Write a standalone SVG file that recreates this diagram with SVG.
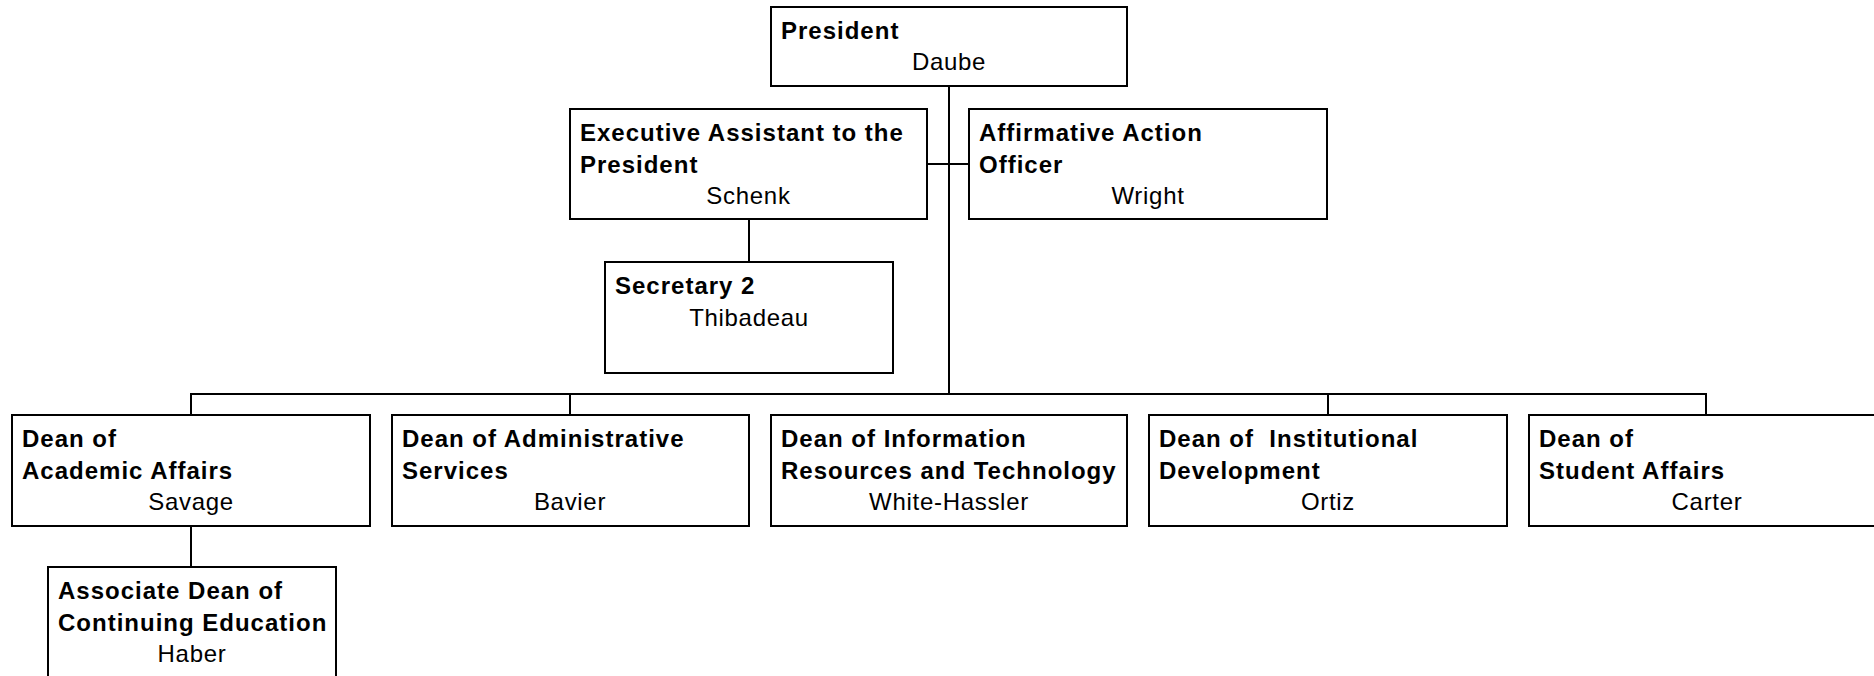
<svg xmlns="http://www.w3.org/2000/svg" width="1874" height="676" viewBox="0 0 1874 676">
  <style>
    .box { fill: #ffffff; stroke: #000000; stroke-width: 2; }
    .link { fill: none; stroke: #000000; stroke-width: 2; }
    .title { font-family: "Liberation Sans", Arial, sans-serif; font-size: 24px; font-weight: bold; letter-spacing: 1px; fill: #000000; white-space: pre; }
    .name { font-family: "Liberation Sans", Arial, sans-serif; font-size: 24px; letter-spacing: 0.7px; fill: #000000; text-anchor: middle; }
  </style>
  <rect width="1874" height="676" fill="#ffffff"/>

  <!-- reporting lines -->
  <g id="connectors">
    <line class="link" x1="949" y1="86" x2="949" y2="394"/>
    <line class="link" x1="927" y1="164" x2="969" y2="164"/>
    <line class="link" x1="749" y1="219" x2="749" y2="262"/>
    <line class="link" x1="191" y1="394" x2="1706" y2="394"/>
    <line class="link" x1="191" y1="393" x2="191" y2="415"/>
    <line class="link" x1="570" y1="394" x2="570" y2="415"/>
    <line class="link" x1="1328" y1="394" x2="1328" y2="415"/>
    <line class="link" x1="1706" y1="393" x2="1706" y2="415"/>
    <line class="link" x1="191" y1="526" x2="191" y2="567"/>
  </g>

  <g id="president">
    <rect class="box" x="771" y="7" width="356" height="79"/>
    <text class="title" x="781" y="39">President</text>
    <text class="name" x="949" y="70">Daube</text>
  </g>

  <g id="executive-assistant">
    <rect class="box" x="570" y="109" width="357" height="110"/>
    <text class="title" x="580" y="141">Executive Assistant to the</text>
    <text class="title" x="580" y="172.5">President</text>
    <text class="name" x="748.5" y="204">Schenk</text>
  </g>

  <g id="affirmative-action">
    <rect class="box" x="969" y="109" width="358" height="110"/>
    <text class="title" x="979" y="141">Affirmative Action</text>
    <text class="title" x="979" y="172.5">Officer</text>
    <text class="name" x="1148" y="204">Wright</text>
  </g>

  <g id="secretary">
    <rect class="box" x="605" y="262" width="288" height="111"/>
    <text class="title" x="615" y="294">Secretary 2</text>
    <text class="name" x="749" y="325.5">Thibadeau</text>
  </g>

  <g id="dean-academic">
    <rect class="box" x="12" y="415" width="358" height="111"/>
    <text class="title" x="22" y="447">Dean of</text>
    <text class="title" x="22" y="478.5">Academic Affairs</text>
    <text class="name" x="191" y="510">Savage</text>
  </g>

  <g id="dean-administrative">
    <rect class="box" x="392" y="415" width="357" height="111"/>
    <text class="title" x="402" y="447">Dean of Administrative</text>
    <text class="title" x="402" y="478.5">Services</text>
    <text class="name" x="570" y="510">Bavier</text>
  </g>

  <g id="dean-information">
    <rect class="box" x="771" y="415" width="356" height="111"/>
    <text class="title" x="781" y="447">Dean of Information</text>
    <text class="title" x="781" y="478.5">Resources and Technology</text>
    <text class="name" x="949" y="510">White-Hassler</text>
  </g>

  <g id="dean-institutional">
    <rect class="box" x="1149" y="415" width="358" height="111"/>
    <text class="title" x="1159" y="447">Dean of  Institutional</text>
    <text class="title" x="1159" y="478.5">Development</text>
    <text class="name" x="1328" y="510">Ortiz</text>
  </g>

  <g id="dean-student">
    <rect class="box" x="1529" y="415" width="356" height="111"/>
    <text class="title" x="1539" y="447">Dean of</text>
    <text class="title" x="1539" y="478.5">Student Affairs</text>
    <text class="name" x="1707" y="510">Carter</text>
  </g>

  <g id="associate-dean">
    <rect class="box" x="48" y="567" width="288" height="112"/>
    <text class="title" x="58" y="599">Associate Dean of</text>
    <text class="title" x="58" y="630.5">Continuing Education</text>
    <text class="name" x="192" y="662">Haber</text>
  </g>
</svg>
